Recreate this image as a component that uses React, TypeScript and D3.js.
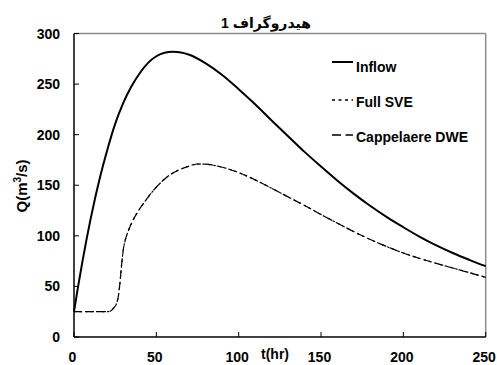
import React from "react";
import * as d3 from "d3";

const W = 497;
const H = 365;

const xTicks = [0, 50, 100, 150, 200, 250];
const yTicks = [0, 50, 100, 150, 200, 250, 300];

const inflowT = [0, 2.5, 5, 7.5, 10, 12.5, 15, 17.5, 20, 25, 30, 35, 40, 45, 50, 55, 60, 65, 70, 80, 90, 100, 110, 120, 130, 140, 150, 160, 170, 180, 190, 200, 210, 220, 230, 240, 250];
const inflowQ = [25, 50, 73.5, 95.5, 116, 135, 152.5, 168.7, 183.7, 210.7, 231.7, 248, 261, 271, 277.5, 281, 282, 281.3, 279, 270.5, 259, 245, 230, 214, 198.5, 183, 168.5, 154.5, 141.5, 129.5, 118.5, 108.5, 99, 90.5, 83, 76.3, 70];

const sveT = [0, 10, 20, 22, 24, 26, 27, 28, 29, 30, 31, 32, 34, 37, 40, 44, 48, 52, 56, 60, 65, 70, 75, 80, 85, 90, 100, 110, 120, 130, 140, 150, 160, 170, 180, 190, 200, 210, 220, 230, 240, 250];
const sveQ = [25, 25, 25, 25.5, 28.5, 34, 41, 55, 73, 87, 95, 100.5, 109, 119, 127, 136, 144.5, 151.5, 157.5, 162, 166, 169, 171, 170.8, 169.6, 167.8, 162.5, 155.3, 147, 138.5, 130, 121, 112.5, 104, 96.3, 89.3, 83, 77.6, 72.8, 68.2, 63.6, 59];

const dweT = [0, 10, 20, 22, 24, 26, 27, 28, 29, 30, 31, 32, 34, 37, 40, 44, 48, 52, 56, 60, 65, 70, 75, 80, 85, 90, 100, 110, 120, 130, 140, 150, 160, 170, 180, 190, 200, 210, 220, 230, 240, 250];
const dweQ = [25, 25, 25, 25.5, 28.5, 34, 41, 55, 73, 87, 95, 100.5, 109, 119, 127, 136, 144.5, 151.5, 157.5, 162, 166, 169, 171, 170.8, 169.6, 167.8, 162.5, 155.3, 147, 138.5, 130, 121, 112.5, 104, 96.3, 89.3, 83, 77.6, 72.8, 68.2, 63.6, 59];

const legendLabels = ["Inflow", "Full SVE", "Cappelaere DWE"];
const titleText = "هیدروگراف 1";

const FONT = "'Liberation Sans', Arial, 'DejaVu Sans', sans-serif";

export default function App() {
  const x = d3.scaleLinear().domain([0, 250]).range([74, 485.7]);
  const y = d3.scaleLinear().domain([0, 300]).range([337, 33.5]);

  const line = d3
    .line<[number, number]>()
    .x((d) => x(d[0]))
    .y((d) => y(d[1]))
    .curve(d3.curveMonotoneX);

  const zip = (t: number[], q: number[]) => t.map((v, i) => [v, q[i]] as [number, number]);

  const legendY = [62, 100, 135];
  const legendStyles = [
    { dash: "none", w: 2 },
    { dash: "3,3.5", w: 1.5 },
    { dash: "9,4.5", w: 1.5 },
  ];

  return (
    <svg
      width={W}
      height={H}
      style={{ position: "absolute", left: 0, top: 0, background: "#fff" }}
      fontFamily={FONT}
    >
      <rect x={0} y={0} width={W} height={H} fill="#fff" />
      <line x1={x(0)} x2={x(250)} y1={y(300)} y2={y(300)} stroke="#8c8c8c" strokeWidth={1.5} />
      <line x1={x(250)} x2={x(250)} y1={y(300)} y2={y(0)} stroke="#8c8c8c" strokeWidth={1.5} />

      <path d={line(zip(inflowT, inflowQ)) || ""} fill="none" stroke="#000" strokeWidth={2} />
      <path d={line(zip(sveT, sveQ)) || ""} fill="none" stroke="#000" strokeWidth={1.2} strokeDasharray="2.5,3" />
      <path d={line(zip(dweT, dweQ)) || ""} fill="none" stroke="#000" strokeWidth={1.2} strokeDasharray="8,4" />

      <line x1={x(0)} x2={x(0)} y1={y(300)} y2={y(0)} stroke="#000" strokeWidth={1.5} />
      <line x1={x(0)} x2={x(250)} y1={y(0)} y2={y(0)} stroke="#000" strokeWidth={1.5} />
      {yTicks.map((t) => (
        <g key={"y" + t}>
          <line x1={x(0)} x2={x(0) + 5} y1={y(t)} y2={y(t)} stroke="#000" strokeWidth={1} />
          <text x={60} y={y(t) + 5} textAnchor="end" fontSize={14} fontWeight="bold">
            {t}
          </text>
        </g>
      ))}
      {xTicks.map((t) => (
        <g key={"x" + t}>
          <line x1={x(t)} x2={x(t)} y1={y(0)} y2={y(0) - 5} stroke="#000" strokeWidth={1} />
          <text x={x(t) - 1.5} y={361.5} textAnchor="middle" fontSize={14} fontWeight="bold">
            {t}
          </text>
        </g>
      ))}

      <text x={261} y={359} fontSize={14} fontWeight="bold">
        t(hr)
      </text>
      <text
        transform={`translate(27,186) rotate(-90)`}
        textAnchor="middle"
        fontSize={15}
        fontWeight="bold"
      >
        Q(m<tspan fontSize={10} dy={-6}>3</tspan>
        <tspan dy={6}>/s)</tspan>
      </text>

      <text x={266} y={28} textAnchor="middle" fontSize={14} fontWeight="bold" direction="rtl">
        {titleText}
      </text>

      {legendLabels.map((lab, i) => (
        <g key={lab}>
          <line
            x1={332}
            x2={353}
            y1={legendY[i]}
            y2={legendY[i]}
            stroke="#000"
            strokeWidth={legendStyles[i].w}
            strokeDasharray={legendStyles[i].dash}
          />
          <text x={356} y={legendY[i] + 6.5 + (i === 0 ? 3 : 0)} fontSize={14} fontWeight="bold">
            {lab}
          </text>
        </g>
      ))}
    </svg>
  );
}
